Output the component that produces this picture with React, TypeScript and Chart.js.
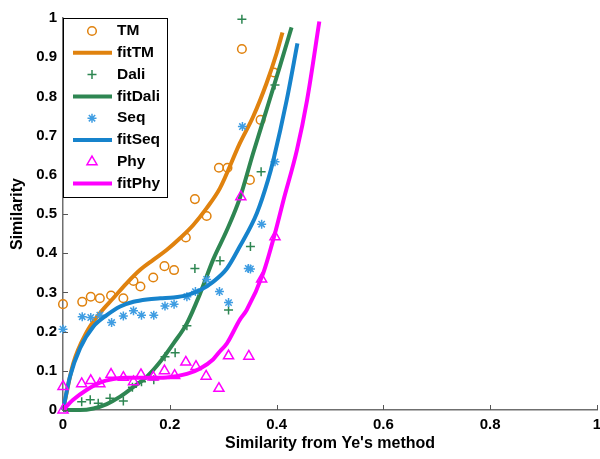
import React, { useEffect, useRef } from "react";
import { Chart, registerables } from "chart.js";
import { drawPoint } from "chart.js/helpers";

Chart.register(...registerables);

// ---- data ----
const tmPoints: number[][] = [
  [0, 0.27], [0.036, 0.276], [0.052, 0.289], [0.069, 0.285], [0.09, 0.292],
  [0.113, 0.285], [0.132, 0.329], [0.145, 0.315], [0.169, 0.338], [0.19, 0.367],
  [0.208, 0.357], [0.23, 0.44], [0.247, 0.538], [0.269, 0.495], [0.292, 0.618],
  [0.308, 0.618], [0.335, 0.921], [0.35, 0.587], [0.37, 0.74], [0.395, 0.861],
];
const fitTmPoints: number[][] = [
  [0, 0], [0.019, 0.118], [0.044, 0.198], [0.069, 0.247], [0.094, 0.285],
  [0.119, 0.323], [0.144, 0.357], [0.169, 0.383], [0.194, 0.408], [0.219, 0.438],
  [0.244, 0.472], [0.269, 0.515], [0.294, 0.566], [0.331, 0.68], [0.356, 0.748],
  [0.381, 0.833], [0.4, 0.91], [0.411, 0.963],
];
const daliPoints: number[][] = [
  [0.035, 0.021], [0.051, 0.026], [0.066, 0.017], [0.088, 0.03], [0.113, 0.023],
  [0.13, 0.058], [0.147, 0.072], [0.17, 0.077], [0.191, 0.136], [0.21, 0.146],
  [0.232, 0.215], [0.247, 0.361], [0.294, 0.381], [0.31, 0.255], [0.335, 0.997],
  [0.351, 0.417], [0.371, 0.608], [0.397, 0.829],
];
const fitDaliPoints: number[][] = [
  [0, 0], [0.032, 0.0], [0.057, 0.004], [0.082, 0.015], [0.107, 0.034],
  [0.132, 0.059], [0.157, 0.085], [0.182, 0.123], [0.207, 0.17], [0.232, 0.221],
  [0.257, 0.298], [0.281, 0.383], [0.307, 0.459], [0.331, 0.54], [0.356, 0.655],
  [0.381, 0.765], [0.406, 0.876], [0.428, 0.976],
];
const seqPoints: number[][] = [
  [0, 0.206], [0.036, 0.238], [0.052, 0.236], [0.069, 0.242], [0.091, 0.223],
  [0.113, 0.24], [0.132, 0.253], [0.147, 0.242], [0.17, 0.242], [0.191, 0.265],
  [0.208, 0.27], [0.232, 0.289], [0.248, 0.302], [0.269, 0.333], [0.293, 0.302],
  [0.31, 0.274], [0.336, 0.723], [0.347, 0.361], [0.351, 0.36], [0.372, 0.474],
  [0.397, 0.633],
];
const fitSeqPoints: number[][] = [
  [0, 0], [0.013, 0.085], [0.032, 0.158], [0.057, 0.213], [0.082, 0.242],
  [0.107, 0.264], [0.132, 0.276], [0.157, 0.282], [0.182, 0.285], [0.207, 0.287],
  [0.232, 0.293], [0.257, 0.306], [0.281, 0.327], [0.307, 0.361], [0.331, 0.417],
  [0.363, 0.502], [0.384, 0.587], [0.394, 0.638], [0.419, 0.791], [0.439, 0.935],
];
const phyPoints: number[][] = [
  [0, 0], [0, 0.06], [0.035, 0.067], [0.052, 0.075], [0.069, 0.067], [0.09, 0.091],
  [0.113, 0.083], [0.132, 0.072], [0.146, 0.09], [0.169, 0.084], [0.19, 0.1],
  [0.209, 0.088], [0.23, 0.122], [0.249, 0.111], [0.268, 0.086], [0.292, 0.055],
  [0.31, 0.138], [0.333, 0.544], [0.348, 0.137], [0.372, 0.334], [0.397, 0.442],
];
const fitPhyPoints: number[][] = [
  [0, 0], [0.019, 0.026], [0.044, 0.051], [0.069, 0.07], [0.094, 0.079],
  [0.119, 0.082], [0.157, 0.082], [0.194, 0.083], [0.232, 0.092], [0.257, 0.106],
  [0.281, 0.129], [0.294, 0.15], [0.307, 0.17], [0.331, 0.23], [0.344, 0.255],
  [0.375, 0.349], [0.397, 0.451], [0.413, 0.536], [0.438, 0.663], [0.457, 0.79],
  [0.48, 0.991],
];

const xTickValues = [0, 0.2, 0.4, 0.6, 0.8, 1];
const xTickLabels = ["0", "0.2", "0.4", "0.6", "0.8", "1"];
const yTickValues = [0, 0.1, 0.2, 0.3, 0.4, 0.5, 0.6, 0.7, 0.8, 0.9, 1];
const yTickLabels = ["0", "0.1", "0.2", "0.3", "0.4", "0.5", "0.6", "0.7", "0.8", "0.9", "1"];

const xTitle = "Similarity from Ye's method";
const yTitle = "Similarity";

const ORANGE = "#e0820e";
const GREEN = "#2e8652";
const BLUE = "#1683cc";
const BLUE_MK = "#3f9de2";
const MAGENTA = "#ff00ff";

const FONT = "'Liberation Sans', Arial, Helvetica, sans-serif";

const toXY = (pts: number[][]) => pts.map(([x, y]) => ({ x, y }));

function markerSet(label: string, pts: number[][], style: string, color: string, radius: number) {
  return {
    label,
    data: toXY(pts),
    showLine: false,
    pointStyle: style,
    pointRadius: radius,
    pointHoverRadius: radius,
    pointBorderColor: color,
    pointBackgroundColor: "rgba(0,0,0,0)",
    pointBorderWidth: 1.5,
    borderColor: color,
    clip: false,
  };
}

function fitSet(label: string, pts: number[][], color: string) {
  return {
    label,
    data: toXY(pts),
    showLine: true,
    borderColor: color,
    borderWidth: 4,
    pointRadius: 0,
    pointHoverRadius: 0,
    cubicInterpolationMode: "monotone",
    fill: false,
    clip: false,
  };
}

const insideTicks = {
  id: "insideTicks",
  afterDatasetsDraw(chart: any) {
    const ctx = chart.ctx;
    const xs = chart.scales.x;
    const ys = chart.scales.y;
    const area = chart.chartArea;
    ctx.save();
    ctx.strokeStyle = "#555";
    ctx.lineWidth = 1;
    xTickValues.forEach((v) => {
      const px = Math.round(xs.getPixelForValue(v)) + 0.5;
      ctx.beginPath();
      ctx.moveTo(px, area.bottom);
      ctx.lineTo(px, area.bottom - 5);
      ctx.stroke();
    });
    yTickValues.forEach((v) => {
      const py = Math.round(ys.getPixelForValue(v)) + 0.5;
      ctx.beginPath();
      ctx.moveTo(area.left, py);
      ctx.lineTo(area.left + 5, py);
      ctx.stroke();
    });
    ctx.restore();
  },
};

const boxLegend = {
  id: "boxLegend",
  afterDraw(chart: any) {
    const ctx = chart.ctx;
    const area = chart.chartArea;
    const left = area.left;
    const top = area.top;
    const w = 104;
    const h = 179;
    ctx.save();
    ctx.fillStyle = "#ffffff";
    ctx.fillRect(left, top, w, h);
    ctx.strokeStyle = "#000";
    ctx.lineWidth = 1;
    ctx.strokeRect(left + 0.5, top + 0.5, w, h);
    const rowH = 21.8;
    chart.data.datasets.forEach((ds: any, i: number) => {
      const cy = top + 13 + i * rowH;
      if (ds.showLine) {
        ctx.strokeStyle = ds.borderColor;
        ctx.lineWidth = 4;
        ctx.beginPath();
        ctx.moveTo(left + 10, cy);
        ctx.lineTo(left + 49, cy);
        ctx.stroke();
      } else {
        ctx.strokeStyle = ds.pointBorderColor;
        ctx.fillStyle = "rgba(0,0,0,0)";
        ctx.lineWidth = 1.5;
        drawPoint(ctx, { pointStyle: ds.pointStyle, radius: ds.pointRadius, rotation: 0, borderWidth: 1.5 } as any, left + 29, cy);
      }
      ctx.fillStyle = "#000";
      ctx.font = `bold 15.5px ${FONT}`;
      ctx.textAlign = "left";
      ctx.textBaseline = "middle";
      ctx.fillText(ds.label, left + 54, cy);
    });
    ctx.restore();
  },
};

export default function App() {
  const ref = useRef<HTMLCanvasElement | null>(null);

  useEffect(() => {
    if (!ref.current) return;
    const datasets: any[] = [
      markerSet("TM", tmPoints, "circle", ORANGE, 4.3),
      fitSet("fitTM", fitTmPoints, ORANGE),
      markerSet("Dali", daliPoints, "cross", GREEN, 4.5),
      fitSet("fitDali", fitDaliPoints, GREEN),
      markerSet("Seq", seqPoints, "star", BLUE_MK, 4.5),
      fitSet("fitSeq", fitSeqPoints, BLUE),
      markerSet("Phy", phyPoints, "triangle", MAGENTA, 5.8),
      fitSet("fitPhy", fitPhyPoints, MAGENTA),
    ];
    datasets.forEach((d, i) => (d.order = datasets.length - i));

    const chart = new Chart(ref.current, {
      type: "scatter",
      data: { datasets },
      options: {
        animation: false,
        responsive: false,
        maintainAspectRatio: false,
        events: [],
        layout: { padding: { top: 18, right: 3, left: 0, bottom: 0 }, autoPadding: false },
        plugins: { legend: { display: false }, tooltip: { enabled: false } },
        scales: {
          x: {
            type: "linear",
            min: 0,
            max: 1,
            afterBuildTicks: (s: any) => {
              s.ticks = xTickValues.map((v) => ({ value: v }));
            },
            afterFit: (s: any) => {
              s.height = 49;
              s.paddingLeft = 0;
              s.paddingRight = 0;
            },
            ticks: {
              callback: (_v: any, i: number) => xTickLabels[i],
              font: { family: FONT, size: 15, weight: "bold" },
              color: "#000",
              padding: 6,
              maxRotation: 0,
              autoSkip: false,
            },
            grid: { display: false, drawTicks: false },
            border: { display: true, color: "#6f6f6f", width: 1.5 },
            title: {
              display: true,
              text: xTitle,
              font: { family: FONT, size: 16, weight: "bold" },
              color: "#000",
              padding: { top: 0, bottom: 6 },
            },
          },
          y: {
            type: "linear",
            min: 0,
            max: 1,
            afterBuildTicks: (s: any) => {
              s.ticks = yTickValues.map((v) => ({ value: v }));
            },
            afterFit: (s: any) => {
              s.width = 63;
              s.paddingTop = 0;
              s.paddingBottom = 0;
            },
            ticks: {
              callback: (_v: any, i: number) => yTickLabels[i],
              font: { family: FONT, size: 15, weight: "bold" },
              color: "#000",
              padding: 6,
              autoSkip: false,
            },
            grid: { display: false, drawTicks: false },
            border: { display: true, color: "#6f6f6f", width: 1.5 },
            title: {
              display: true,
              text: yTitle,
              font: { family: FONT, size: 16, weight: "bold" },
              color: "#000",
              padding: { top: 8, bottom: 0 },
            },
          },
        },
      } as any,
      plugins: [insideTicks, boxLegend],
    });
    return () => chart.destroy();
  }, []);

  return (
    <div style={{ position: "fixed", left: 0, top: 0, width: 600, height: 459, background: "#fff" }}>
      <canvas ref={ref} width={600} height={459} style={{ display: "block", width: 600, height: 459 }} />
    </div>
  );
}
